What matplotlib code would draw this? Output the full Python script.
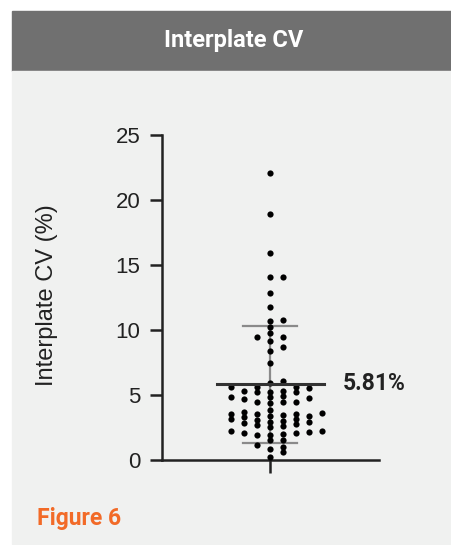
import numpy as np
import matplotlib
matplotlib.use("Agg")
import matplotlib.pyplot as plt
from matplotlib.patches import Rectangle

# interplate CV values (%)
cv_top = [22.05, 18.9, 15.9, 14.05, 14.1, 12.85, 11.8, 10.7, 10.8, 10.25,
          9.5, 9.46, 9.77, 9.13, 8.38, 8.72, 7.44]
cv_low = [3.85, 3.41, 3.03, 2.62, 1.95,
          5.64, 5.26, 4.87, 4.49, 3.64, 3.28, 2.92, 2.1,
          5.95, 5.56, 5.2, 4.82, 4.41, 3.54, 3.13, 2.69, 2.23, 1.54,
          5.64, 4.74, 2.95, 2.0, 1.03, 0.64, 0.26,
          5.33, 4.49, 3.54, 1.92, 1.54, 1.15, 0.82,
          6.1, 5.64, 5.2, 4.67, 3.46, 3.08, 2.56, 2.05,
          5.33, 4.49, 3.72, 3.38, 2.87, 2.18,
          4.92, 3.54, 3.13, 2.74, 2.23]
cv_values = np.array(cv_top + cv_low)
cv_mean = 5.81
cv_sd = 4.52
mean_label = "5.81%"
y_ticks = [0, 5, 10, 15, 20, 25]

W, H = 452, 545
fig = plt.figure(figsize=(W / 100, H / 100), dpi=100)
fig.patch.set_facecolor("white")

# header band and panel
fig.patches.append(Rectangle((12 / W, 1 - 71 / H), 1 - 12 / W, 60 / H,
                             transform=fig.transFigure, color="#707070", zorder=0))
fig.patches.append(Rectangle((12 / W, 1 / H), 1 - 12 / W, (544 - 71) / H,
                             transform=fig.transFigure, color="#f0f1f0", zorder=0))
fig.text(234 / W, 1 - 41 / H, "Interplate CV", color="white", fontsize=17,
         fontweight="bold", family="Roboto", ha="center", va="center")

ax = fig.add_axes([162 / W, 1 - 460 / H, 217 / W, 325 / H])
ax.set_zorder(2)
ax.set_facecolor("none")
ax.set_xlim(-1, 1)
ax.set_ylim(0, 25)

# simple swarm layout in pixel units
px_per_x = 217 / 2
px_per_y = 325 / 25
step, col_w, row_h = 6.5, 12.5, 5.0
placed = []
xs = np.zeros(len(cv_values))
for i in np.argsort(cv_values):
    vy = cv_values[i] * px_per_y
    for k in [0] + [s * n for n in range(1, 20) for s in (1, -1)]:
        ox = k * step
        if all(not (abs(ox - px) < col_w and abs(vy - py) < row_h) for px, py in placed):
            placed.append((ox, vy))
            xs[i] = ox / px_per_x
            break

ax.scatter(xs, cv_values, s=20, color="black", zorder=3, linewidths=0, clip_on=False)

# mean and SD
ax.plot([0, 0], [cv_mean - cv_sd, cv_mean + cv_sd], color="#8a8a8a", lw=1.6, zorder=2)
for yy in (cv_mean - cv_sd, cv_mean + cv_sd):
    ax.plot([-27 / px_per_x, 27 / px_per_x], [yy, yy], color="#8a8a8a", lw=1.6, zorder=2)
ax.plot([-53.5 / px_per_x, 53.5 / px_per_x], [cv_mean, cv_mean], color="#333333",
        lw=2.2, zorder=4)

for s in ("top", "right"):
    ax.spines[s].set_visible(False)
for s in ("left", "bottom"):
    ax.spines[s].set_linewidth(1.8)
    ax.spines[s].set_color("#222222")
ax.set_yticks(y_ticks)
ax.set_xticks([0])
ax.set_xticklabels([""])
ax.tick_params(axis="y", length=8.6, width=1.8, color="#222222", pad=7,
               labelsize=16, labelcolor="#222222")
ax.tick_params(axis="x", length=9.4, width=1.8, color="#222222")
for lab in ax.get_yticklabels():
    lab.set_family("Liberation Sans")

fig.text(47 / W, 1 - 295 / H, "Interplate CV (%)", rotation=90, fontsize=17,
         family="Liberation Sans", color="#222222", ha="center", va="center")
fig.text(343 / W, 1 - 384 / H, mean_label, fontsize=16.5, fontweight="bold",
         family="Roboto", color="#222222", ha="left", va="center")
fig.text(37 / W, 1 - 518 / H, "Figure 6", fontsize=16.5, fontweight="bold",
         family="Roboto", color="#f26a27", ha="left", va="center")

fig.savefig("out.png", dpi=100, facecolor="white")
